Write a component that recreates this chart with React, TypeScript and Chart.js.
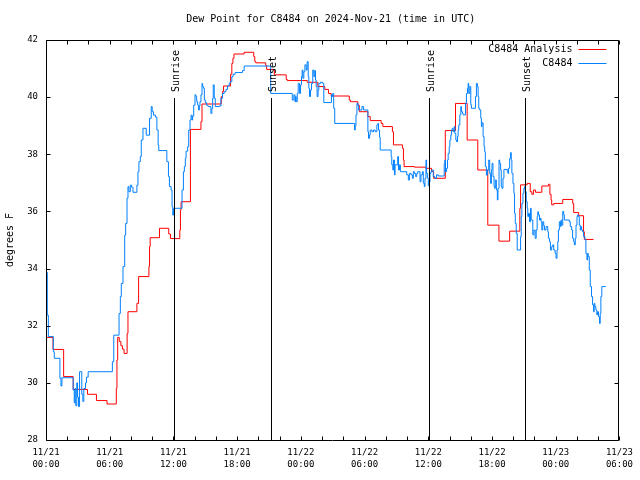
import React, { useEffect, useRef } from 'react';
import { Chart, registerables } from 'chart.js';

Chart.register(...registerables);

const TITLE = 'Dew Point for C8484 on 2024-Nov-21 (time in UTC)';
const Y_LABEL = 'degrees F';
const MONTH = 11;
const FIRST_DAY = 21;

const X_MIN = 0;
const X_MAX = 54;
const X_STEP = 2;
const X_LABEL_EVERY = 6;
const Y_MIN = 28;
const Y_MAX = 42;
const Y_STEP = 2;

const seriesLabels = ['C8484 Analysis', 'C8484'];
const seriesColors = ['#ff0000', '#0080ff'];

const sunHours = [12.03, 21.2, 36.05, 45.13];
const sunLabels = ['Sunrise', 'Sunset', 'Sunrise', 'Sunset'];

const analysisHours = [
  0.0, 0.66, 1.66, 2.56, 3.91, 4.75, 5.75, 6.62, 6.68, 6.75, 6.9, 7.05, 7.2, 7.35, 7.64, 7.72,
  8.56, 8.72, 9.69, 9.75, 9.81, 10.69, 11.56, 11.72, 12.6, 12.66, 12.72, 13.6, 14.59, 14.69,
  16.5, 16.62, 16.72, 17.38, 17.5, 17.6, 17.7, 18.66, 19.56, 19.66, 19.75, 20.69, 20.78, 21.5,
  22.62, 22.72, 24.6, 25.6, 26.25, 26.6, 26.85, 28.56, 28.66, 29.37, 29.5, 30.31, 30.53, 31.56,
  31.72, 32.62, 32.72, 33.56, 33.66, 33.72, 34.69, 35.75, 36.3, 36.5, 37.6, 38.56, 39.66, 40.66,
  41.6, 42.65, 43.66, 44.62, 44.69, 45.31, 45.6, 45.75, 45.9, 46.1, 46.69, 47.31, 47.45, 47.56,
  47.62, 47.81, 48.66, 49.6, 49.69, 50.16, 50.62, 50.69, 51.56,
];
const analysisValues = [
  31.59, 31.17, 30.22, 29.77, 29.6, 29.38, 29.26, 29.8, 30.8, 31.59, 31.45, 31.3, 31.18, 31.03, 31.73, 32.49,
  32.78, 33.72, 34.07, 34.77, 35.08, 35.41, 35.21, 35.05, 35.35, 36.05, 36.34, 38.87, 39.14, 39.76,
  40.02, 40.19, 40.39, 40.8, 41.18, 41.36, 41.51, 41.57, 41.42, 41.25, 41.2, 41.1, 40.97, 40.78,
  40.62, 40.58, 40.52, 40.37, 40.27, 40.13, 40.04, 39.9, 39.84, 39.72, 39.49, 39.32, 39.18, 39.08,
  38.97, 38.79, 38.33, 38.21, 37.8, 37.57, 37.55, 37.51, 37.4, 37.16, 38.83, 39.78, 38.5, 37.45,
  35.52, 34.96, 35.31, 36.11, 36.93, 36.98, 36.69, 36.6, 36.75, 36.67, 36.89, 36.95, 36.6, 36.4,
  36.23, 36.28, 36.42, 36.28, 35.96, 35.85, 35.29, 35.02, 35.02,
];

const obsHours = [
  0.0, 0.12, 0.22, 0.69, 0.78, 1.31, 1.41, 1.5, 2.56, 2.66, 2.72, 2.8, 2.9, 2.97, 3.06, 3.16,
  3.37, 3.47, 3.56, 3.72, 3.81, 3.97, 6.25, 6.38, 6.88, 7.0, 7.09, 7.25, 7.41, 7.5, 7.63, 7.72,
  7.81, 7.94, 8.06, 8.19, 8.56, 8.66, 8.75, 8.88, 8.97, 9.13, 9.44, 9.75, 9.91, 10.0, 10.12, 10.31,
  10.44, 10.56, 10.62, 11.38, 11.53, 11.62, 11.78, 11.87, 11.94, 12.0, 12.81, 12.94, 13.03, 13.12,
  13.19, 13.34, 13.44, 13.56, 13.66, 13.75, 13.81, 13.91, 14.03, 14.12, 14.19, 14.28, 14.37, 14.44,
  14.5, 14.59, 14.69, 14.75, 14.84, 14.91, 15.0, 15.12, 15.22, 15.31, 15.53, 15.62, 15.69, 15.75,
  15.84, 15.94, 16.31, 16.47, 16.62, 16.78, 16.94, 17.09, 17.25, 17.34, 17.5, 17.62, 17.81, 18.5,
  18.66, 21.16, 23.19, 23.34, 23.44, 23.5, 23.56, 23.66, 23.75, 23.88, 23.97, 24.06, 24.12, 24.19,
  24.28, 24.38, 24.5, 24.59, 24.69, 24.75, 24.81, 24.91, 25.0, 25.12, 25.22, 25.31, 25.38, 25.44,
  25.53, 25.62, 25.69, 25.84, 26.06, 26.16, 26.88, 26.94, 27.0, 27.09, 27.19, 29.06, 29.12, 29.19,
  29.28, 29.37, 29.44, 29.75, 29.91, 30.31, 30.37, 30.47, 30.53, 30.69, 30.84, 31.0, 31.16, 31.25,
  31.31, 31.41, 31.47, 32.5, 32.56, 32.66, 32.72, 32.81, 32.87, 33.12, 33.19, 33.28, 33.37, 33.97,
  34.12, 34.22, 34.37, 34.5, 34.59, 34.69, 34.81, 34.91, 35.0, 35.22, 35.31, 35.44, 35.53, 35.62,
  35.69, 35.78, 35.84, 35.94, 36.0, 36.06, 36.16, 36.25, 36.31, 36.47, 36.62, 36.78, 36.94, 37.5,
  37.56, 37.62, 37.72, 37.81, 37.87, 37.97, 38.03, 38.12, 38.19, 38.25, 38.34, 38.44, 38.5, 38.59,
  38.66, 38.75, 38.81, 38.87, 38.97, 39.06, 39.12, 39.22, 39.28, 39.5, 39.59, 39.69, 39.75, 39.81,
  39.91, 40.0, 40.06, 40.44, 40.53, 40.62, 40.69, 40.75, 40.84, 40.94, 41.0, 41.06, 41.16, 41.25,
  41.31, 41.37, 41.47, 41.56, 41.69, 41.78, 41.87, 41.94, 42.0, 42.09, 42.19, 42.25, 42.31, 42.41,
  42.5, 42.56, 42.66, 42.72, 42.81, 42.87, 42.94, 43.03, 43.12, 43.44, 43.5, 43.56, 43.66, 43.75,
  43.81, 43.87, 43.97, 44.06, 44.12, 44.19, 44.28, 44.37, 44.69, 44.75, 44.81, 44.91, 45.0, 45.06,
  45.12, 45.22, 45.31, 45.37, 45.44, 45.53, 45.62, 45.69, 45.84, 45.94, 46.06, 46.16, 46.25, 46.31,
  46.37, 46.47, 46.56, 46.62, 46.69, 46.78, 46.87, 46.94, 47.09, 47.25, 47.31, 47.41, 47.5, 47.62,
  47.72, 47.81, 47.94, 48.03, 48.12, 48.19, 48.25, 48.34, 48.44, 48.5, 48.56, 48.66, 48.75, 48.81,
  49.28, 49.37, 49.5, 49.59, 49.69, 49.75, 49.84, 49.91, 50.0, 50.06, 50.12, 50.22, 50.31, 50.37,
  50.44, 50.53, 50.62, 50.75, 50.84, 50.94, 51.0, 51.06, 51.16, 51.25, 51.37, 51.47, 51.56, 51.62,
  51.69, 51.78, 51.87, 51.94, 52.03, 52.12, 52.19, 52.25, 52.34, 52.72,
];
const obsValues = [
  33.87, 32.37, 31.62, 31.09, 30.86, 30.16, 29.89, 30.18, 29.75, 29.3, 29.8, 29.2, 30.0, 29.5, 29.17, 30.39,
  29.6, 29.35, 29.8, 30.0, 30.2, 30.39, 30.74, 31.67, 32.43, 33.02, 33.48, 34.07, 35.17, 35.58, 36.46, 36.87,
  36.69, 36.92, 36.85, 36.67, 36.92, 37.39, 37.74, 37.92, 38.5, 38.91, 38.67, 39.26, 39.67, 39.49, 39.37, 39.3,
  38.85, 38.32, 38.13, 37.74, 37.22, 36.87, 36.75, 36.17, 35.87, 36.11, 36.75, 37.39, 37.57, 37.86,
  38.11, 38.27, 38.85, 39.2, 39.37, 39.2, 39.34, 39.72, 40.08, 40.02, 39.84, 39.72, 39.55, 39.69,
  39.84, 40.08, 40.48, 40.37, 40.31, 39.9, 39.81, 39.72, 39.69, 39.67, 39.43, 39.6, 39.96, 40.43,
  39.96, 39.67, 39.69, 39.96, 40.13, 40.19, 40.27, 40.39, 40.48, 40.54, 40.72, 40.8, 40.86, 40.93,
  41.09, 40.13, 39.9, 40.08, 39.84, 40.02, 39.84, 40.13, 40.48, 40.13, 40.43, 40.72, 40.95, 40.66,
  40.89, 41.13, 40.95, 41.24, 40.72, 40.31, 40.02, 40.25, 40.48, 40.95, 40.72, 40.93, 40.6, 40.37,
  40.02, 40.25, 40.48, 40.52, 40.48, 39.81, 40.08, 40.02, 40.13, 39.61, 39.08, 38.85, 39.0, 39.38,
  39.78, 39.72, 39.55, 39.67, 39.55, 38.79, 38.56, 38.68, 38.85, 38.79, 38.85, 38.79, 39.03, 39.08,
  38.85, 38.6, 38.15, 37.92, 37.63, 37.45, 37.8, 37.28, 37.63, 37.92, 37.45, 37.63, 37.39, 37.28,
  37.1, 37.33, 37.28, 37.16, 37.39, 37.33, 37.22, 37.33, 37.39, 37.04, 37.28, 37.39, 36.99, 36.87,
  37.16, 37.8, 37.33, 37.16, 36.9, 37.04, 37.33, 37.39, 37.45, 37.22, 37.16, 37.28, 37.24, 37.68,
  37.8, 37.39, 37.51, 37.8, 38.03, 38.27, 38.5, 38.68, 38.85, 38.91, 38.79, 38.97, 38.73, 38.5,
  38.44, 38.62, 38.85, 39.03, 39.38, 39.67, 39.49, 39.43, 39.38, 39.78, 40.13, 40.31, 40.48, 40.13,
  40.37, 39.73, 39.61, 40.02, 40.48, 40.37, 40.02, 39.61, 39.55, 39.26, 38.97, 39.1, 38.62, 38.27,
  38.09, 37.57, 37.27, 37.45, 37.8, 37.33, 36.98, 37.45, 37.68, 37.22, 36.87, 36.81, 37.1, 36.75,
  36.4, 36.81, 37.8, 37.68, 37.45, 36.87, 36.81, 37.16, 37.47, 37.39, 37.33, 37.51, 37.86, 38.06,
  37.8, 37.33, 36.98, 36.63, 35.93, 35.58, 35.23, 34.65, 35.12, 35.82, 36.28, 36.63, 36.81, 36.87,
  36.69, 36.34, 36.11, 35.82, 35.93, 35.64, 36.11, 35.7, 35.18, 35.35, 35.06, 35.35, 35.82, 35.99,
  35.88, 35.7, 35.76, 35.64, 35.35, 35.64, 35.5, 35.35, 35.47, 35.29, 35.06, 34.94, 34.65, 34.77,
  34.83, 34.65, 34.53, 34.36, 34.65, 34.94, 35.35, 35.64, 35.47, 35.7, 35.52, 36.0, 35.88, 35.7,
  35.64, 35.47, 35.35, 35.06, 34.94, 34.83, 35.06, 35.52, 35.82, 35.88, 35.82, 35.52, 35.35, 35.47,
  35.35, 35.29, 35.12, 35.02, 34.53, 34.3, 34.53, 34.42, 33.95, 33.37, 33.02, 32.73, 32.49, 32.78,
  32.67, 32.55, 32.38, 32.49, 32.32, 32.08, 32.43, 33.02, 33.37, 33.37,
];

const FONT = '"DejaVu Sans Mono", monospace';

function pad2(n: number): string {
  return n < 10 ? '0' + n : String(n);
}

function toPoints(xs: number[], ys: number[]) {
  return xs.map((x, i) => ({ x, y: ys[i] }));
}

const gnuplotDecor = {
  id: 'gnuplotDecor',
  afterDraw(chart: any) {
    const { ctx, chartArea: a, scales } = chart;
    const xs = scales.x;
    const ys = scales.y;
    ctx.save();
    ctx.strokeStyle = '#000';
    ctx.fillStyle = '#000';
    ctx.lineWidth = 1;

    // sunrise / sunset markers
    ctx.font = '10px ' + FONT;
    sunHours.forEach((h, i) => {
      const px = Math.round(xs.getPixelForValue(h)) + 0.5;
      ctx.strokeStyle = '#000';
      ctx.beginPath();
      ctx.moveTo(px, a.top + 58);
      ctx.lineTo(px, a.bottom);
      ctx.stroke();
      ctx.save();
      ctx.translate(px + 4, a.top + 52);
      ctx.rotate(-Math.PI / 2);
      ctx.textAlign = 'left';
      ctx.textBaseline = 'alphabetic';
      ctx.fillText(sunLabels[i], 0, 0);
      ctx.restore();
    });

    // frame
    const L = Math.round(a.left) + 0.5;
    const R = Math.round(a.right) - 0.5;
    const T = Math.round(a.top) + 0.5;
    const B = Math.round(a.bottom) + 0.5;
    ctx.strokeStyle = '#000';
    ctx.beginPath();
    ctx.rect(L, T, R - L, B - T);
    ctx.stroke();

    // inward ticks
    const tl = 4;
    ctx.beginPath();
    xs.ticks.forEach((t: any) => {
      const px = Math.round(xs.getPixelForValue(t.value)) + 0.5;
      ctx.moveTo(px, B);
      ctx.lineTo(px, B - tl);
      ctx.moveTo(px, T);
      ctx.lineTo(px, T + tl);
    });
    ys.ticks.forEach((t: any) => {
      const py = Math.round(ys.getPixelForValue(t.value)) + 0.5;
      ctx.moveTo(L, py);
      ctx.lineTo(L + tl, py);
      ctx.moveTo(R, py);
      ctx.lineTo(R - tl, py);
    });
    ctx.stroke();

    // title
    ctx.font = '10px ' + FONT;
    ctx.fillStyle = '#000';
    ctx.textAlign = 'center';
    ctx.textBaseline = 'middle';
    ctx.fillText(TITLE, (a.left + a.right) / 2 - 2, 19);

    // y axis label
    ctx.save();
    ctx.translate(10, (a.top + a.bottom) / 2);
    ctx.rotate(-Math.PI / 2);
    ctx.fillText(Y_LABEL, 0, 0);
    ctx.restore();

    // legend (key inside the plot, top right)
    seriesLabels.forEach((label, i) => {
      const y = Math.round(a.top + 9 + i * 14);
      ctx.fillStyle = '#000';
      ctx.textAlign = 'right';
      ctx.textBaseline = 'middle';
      ctx.fillText(label, a.right - 47, y);
      ctx.strokeStyle = seriesColors[i];
      ctx.lineWidth = 1;
      ctx.beginPath();
      ctx.moveTo(a.right - 41, y + 0.5);
      ctx.lineTo(a.right - 13, y + 0.5);
      ctx.stroke();
    });
    ctx.restore();
  },
};

export default function App() {
  const canvasRef = useRef<HTMLCanvasElement | null>(null);

  useEffect(() => {
    document.body.style.margin = '0';
    const canvas = canvasRef.current;
    if (!canvas) return;
    const chart = new Chart(canvas, {
      type: 'line',
      data: {
        datasets: [
          {
            label: seriesLabels[0],
            data: toPoints(analysisHours, analysisValues),
            borderColor: seriesColors[0],
            backgroundColor: seriesColors[0],
            borderWidth: 1,
            pointRadius: 0,
            stepped: 'before',
            fill: false,
            order: 2,
          },
          {
            label: seriesLabels[1],
            data: toPoints(obsHours, obsValues),
            borderColor: seriesColors[1],
            backgroundColor: seriesColors[1],
            borderWidth: 1,
            pointRadius: 0,
            stepped: 'before',
            fill: false,
            order: 1,
          },
        ],
      },
      options: {
        animation: false,
        responsive: false,
        maintainAspectRatio: false,
        layout: { padding: { top: 40, right: 18, left: 0, bottom: 0 } },
        plugins: {
          legend: { display: false },
          title: { display: false },
          tooltip: { enabled: false },
        },
        scales: {
          x: {
            type: 'linear',
            min: X_MIN,
            max: X_MAX,
            grid: { display: false, drawTicks: false },
            border: { display: false },
            afterFit: (scale: any) => {
              scale.height = 40;
            },
            ticks: {
              stepSize: X_STEP,
              autoSkip: false,
              maxRotation: 0,
              minRotation: 0,
              padding: 7,
              color: '#000',
              font: { family: FONT, size: 9, lineHeight: 1.333 },
              callback: (value: any) => {
                const v = Number(value);
                if (Math.abs(v % X_LABEL_EVERY) > 1e-6) return '';
                const day = FIRST_DAY + Math.floor(v / 24);
                const hh = Math.round(v % 24);
                return [pad2(MONTH) + '/' + pad2(day), pad2(hh) + ':00'];
              },
            },
          },
          y: {
            type: 'linear',
            min: Y_MIN,
            max: Y_MAX,
            grid: { display: false, drawTicks: false },
            border: { display: false },
            afterFit: (scale: any) => {
              scale.width = 46;
            },
            ticks: {
              stepSize: Y_STEP,
              padding: 8,
              color: '#000',
              font: { family: FONT, size: 9 },
              callback: (value: any) => String(value),
            },
          },
        },
      },
      plugins: [gnuplotDecor],
    });
    return () => chart.destroy();
  }, []);

  return (
    <div style={{ width: 640, height: 480, background: '#fff' }}>
      <canvas ref={canvasRef} width={640} height={480} style={{ display: 'block' }} />
    </div>
  );
}
